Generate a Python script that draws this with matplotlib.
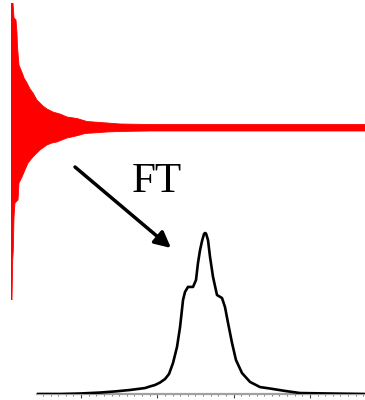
import numpy as np
import matplotlib
matplotlib.use("Agg")
import matplotlib.pyplot as plt
from matplotlib.ticker import MultipleLocator

# --- FID (time-domain) envelope ---
fid_upper_t = [0, 0.0056, 0.0085, 0.0141, 0.0169, 0.0184, 0.0198, 0.0226, 0.0282, 0.0339,
               0.0367, 0.0452, 0.0537, 0.0621, 0.0734, 0.0819, 0.0904, 0.1017, 0.1186,
               0.1384, 0.1582, 0.1864, 0.2147, 0.2712, 0.3079, 0.3927, 1.0]
fid_upper_a = [1.0, 1.0, 0.880, 0.864, 0.760, 0.647, 0.599, 0.503, 0.463, 0.423,
               0.399, 0.359, 0.311, 0.279, 0.222, 0.198, 0.174, 0.150, 0.126,
               0.110, 0.086, 0.074, 0.050, 0.038, 0.030, 0.026, 0.026]
fid_lower_t = [0, 0.0028, 0.0048, 0.0065, 0.0085, 0.0113, 0.0198, 0.0226, 0.0311, 0.0395,
               0.0480, 0.0621, 0.0819, 0.1017, 0.1158, 0.1299, 0.1441, 0.1582, 0.1723,
               0.1949, 0.2090, 0.2316, 0.2712, 0.3079, 0.3927, 1.0]
fid_lower_a = [-1.381, -1.381, -1.060, -0.980, -0.715, -0.603, -0.579, -0.443, -0.395, -0.339,
               -0.283, -0.234, -0.178, -0.138, -0.122, -0.114, -0.098, -0.082, -0.074,
               -0.058, -0.046, -0.042, -0.034, -0.030, -0.026, -0.026]

# --- Spectrum (frequency domain) ---
spec_f = [-0.577, -0.275, -0.013, 0.249, 0.446, 0.642, 0.839, 0.904, 0.970, 1.035,
          1.101, 1.153, 1.206, 1.258, 1.298, 1.337, 1.363, 1.402, 1.468, 1.507,
          1.533, 1.560, 1.586, 1.612, 1.625, 1.638, 1.664, 1.691, 1.730, 1.782,
          1.848, 1.887, 1.927, 1.979, 2.031, 2.110, 2.215, 2.346, 2.477, 2.674,
          2.870, 3.263, 3.722]
spec_i = [0.0, 0.0, 0.003, 0.009, 0.016, 0.025, 0.037, 0.047, 0.056, 0.071,
          0.093, 0.124, 0.193, 0.292, 0.416, 0.584, 0.634, 0.665, 0.665, 0.708,
          0.814, 0.894, 0.950, 0.994, 1.0, 0.997, 0.957, 0.851, 0.727, 0.615,
          0.596, 0.540, 0.441, 0.317, 0.211, 0.130, 0.075, 0.043, 0.034, 0.019,
          0.006, 0.003, 0.0]

label_text = "FT"

W, H = 365, 400
fig = plt.figure(figsize=(W / 100, H / 100), dpi=100)
fig.patch.set_facecolor("white")

# FID axes
ax1 = fig.add_axes([11 / W, (H - 300) / H, 354 / W, 297 / H])
poly_t = np.concatenate([fid_upper_t, fid_lower_t[::-1]])
poly_a = np.concatenate([fid_upper_a, fid_lower_a[::-1]])
ax1.fill(poly_t, poly_a, color="#ff0000", lw=0.6, ec="#ff0000")
ax1.set_xlim(0, 1)
ax1.set_ylim(-1.381, 1.0)
ax1.axis("off")

# Spectrum axes
ax2 = fig.add_axes([37 / W, 6 / H, 328 / W, 174 / H])
ax2.plot(spec_f, spec_i, color="black", lw=1.9, zorder=3,
         solid_joinstyle="round", solid_capstyle="round")
ax2.set_xlim(-0.577, 3.722)
ax2.set_ylim(0, 174 / 161)
for s in ["top", "left", "right"]:
    ax2.spines[s].set_visible(False)
ax2.spines["bottom"].set_color("#a0a0a0")
ax2.spines["bottom"].set_linewidth(1.6)
ax2.set_yticks([])
ax2.xaxis.set_major_locator(MultipleLocator(1))
ax2.xaxis.set_minor_locator(MultipleLocator(0.1))
ax2.tick_params(axis="x", which="major", length=3, width=0.8, color="#444444",
                labelbottom=False, direction="out")
ax2.tick_params(axis="x", which="minor", length=1.6, width=0.6, color="#666666",
                direction="out")
ax2.patch.set_alpha(0)

# Overlay for arrow and label
ax0 = fig.add_axes([0, 0, 1, 1])
ax0.set_xlim(0, W)
ax0.set_ylim(H, 0)
ax0.axis("off")
ax0.patch.set_alpha(0)
ax0.annotate("", xy=(171, 248), xytext=(75, 167),
             arrowprops=dict(arrowstyle="-|>", lw=2.5, color="black",
                             mutation_scale=24, shrinkA=0, shrinkB=0))
ax0.text(132, 192, label_text, fontsize=31, family="Liberation Serif",
         ha="left", va="baseline", color="black")

fig.savefig("out.png", dpi=100)
